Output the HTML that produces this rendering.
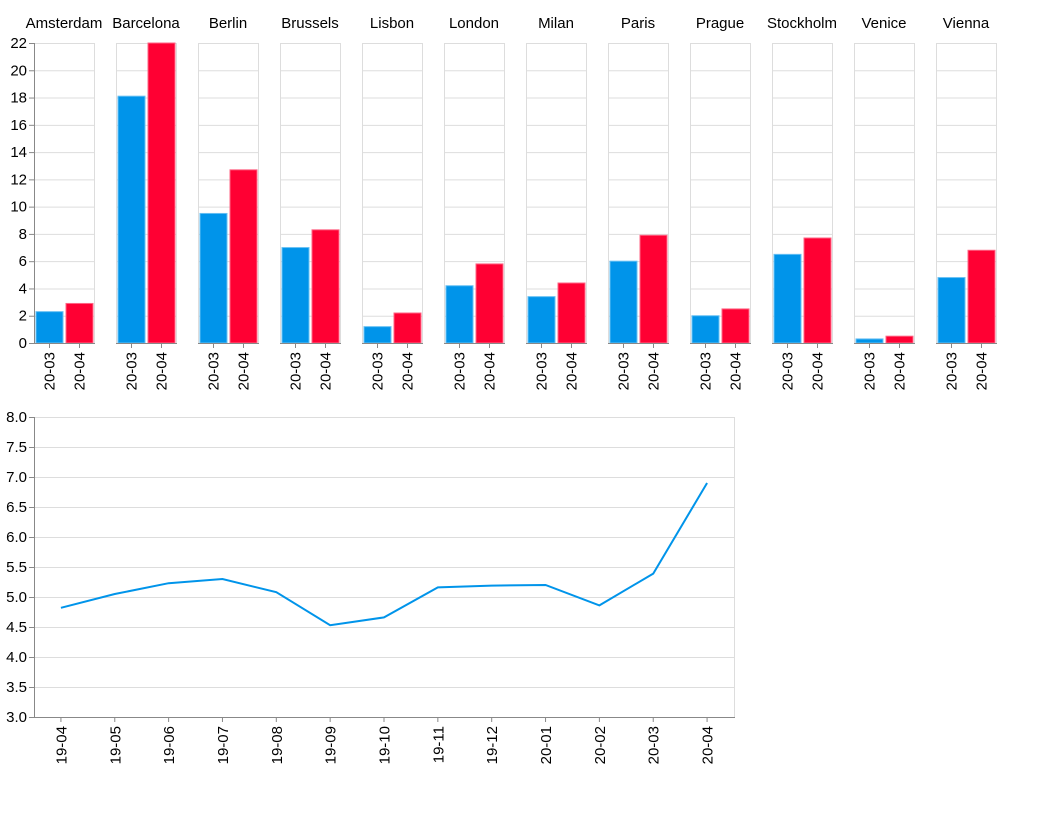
<!DOCTYPE html>
<html><head><meta charset="utf-8"><style>
body{margin:0;background:#fff;font-family:"Liberation Sans",Arial,sans-serif}
svg text{font-family:"Liberation Sans",Arial,sans-serif;fill:#000}
</style></head><body>
<svg id="c" width="1063" height="812" xmlns="http://www.w3.org/2000/svg"></svg>
<script>
const cities=["Amsterdam","Barcelona","Berlin","Brussels","Lisbon","London","Milan","Paris","Prague","Stockholm","Venice","Vienna"];
const barPeriods=["20-03","20-04"];
const vals0320=[2.3,18.1,9.5,7.0,1.2,4.2,3.4,6.0,2.0,6.5,0.3,4.8];
const vals0420=[2.9,22.0,12.7,8.3,2.2,5.8,4.4,7.9,2.5,7.7,0.5,6.8];
const barTicks=[0,2,4,6,8,10,12,14,16,18,20,22];
const months=["19-04","19-05","19-06","19-07","19-08","19-09","19-10","19-11","19-12","20-01","20-02","20-03","20-04"];
const lineVals=[4.82,5.05,5.23,5.30,5.08,4.53,4.66,5.16,5.19,5.20,4.86,5.39,6.90];
const lineTicks=[3.0,3.5,4.0,4.5,5.0,5.5,6.0,6.5,7.0,7.5,8.0];

const NS="http://www.w3.org/2000/svg",svg=document.getElementById('c');
function mk(t,a,p){const e=document.createElementNS(NS,t);for(const k in a)e.setAttribute(k,a[k]);(p||svg).appendChild(e);return e;}
const FS=15;
const by=v=>343-v*300/22;
const px=i=>34+i*82, PW=60;
const colors=["#0094ea","#ff0033"], strokes=["#66bff3","#ff6685"];
cities.forEach((c,i)=>{
  const g=mk('g',{});
  
  
  const x0=px(i);
  barTicks.forEach(t=>{mk('line',{x1:x0,x2:x0+PW,y1:by(t)+.5,y2:by(t)+.5,stroke:'#ddd'},g);});
  mk('rect',{x:x0+.5,y:43.5,width:PW,height:300,fill:'none',stroke:'#ddd'},g);
  const tt=mk('text',{x:x0+PW/2,y:28,'text-anchor':'middle','font-size':FS},g);tt.textContent=c;
  
  
  [vals0320[i],vals0420[i]].forEach((v,j)=>{
    const r=mk('rect',{x:x0+2+j*30,y:by(v),width:27,height:343-by(v),fill:colors[j],stroke:strokes[j]},g);
    
    
    const cx=x0+15+j*30;
    mk('line',{x1:cx+.5,x2:cx+.5,y1:343,y2:348,stroke:'#888'},g);
    const l=mk('text',{transform:`translate(${cx+5.5},352) rotate(-90)`,'text-anchor':'end','font-size':FS},g);l.textContent=barPeriods[j];
    
    
  });
  mk('line',{x1:x0,x2:x0+PW+1,y1:343.5,y2:343.5,stroke:'#888'},g);
});
mk('line',{x1:34.5,x2:34.5,y1:43,y2:344,stroke:'#888'});
barTicks.forEach(t=>{
  mk('line',{x1:29,x2:34,y1:by(t)+.5,y2:by(t)+.5,stroke:'#888'});
  const l=mk('text',{x:27,y:by(t)+5,'text-anchor':'end','font-size':FS});l.textContent=t;
  
  
});

const ly=v=>717-(v-3)*60, step=700/13, lx=i=>34+(i+.5)*step;
lineTicks.forEach(t=>{
  mk('line',{x1:34,x2:734,y1:ly(t)+.5,y2:ly(t)+.5,stroke:'#ddd'});
  mk('line',{x1:29,x2:34,y1:ly(t)+.5,y2:ly(t)+.5,stroke:'#888'});
  const l=mk('text',{x:27,y:ly(t)+5,'text-anchor':'end','font-size':FS});l.textContent=t.toFixed(1);
  
  
});
mk('line',{x1:734.5,x2:734.5,y1:417,y2:717,stroke:'#ddd'});
mk('line',{x1:34.5,x2:34.5,y1:417,y2:718,stroke:'#888'});
mk('line',{x1:34,x2:735,y1:717.5,y2:717.5,stroke:'#888'});
months.forEach((m,i)=>{
  const x=lx(i);
  mk('line',{x1:x,x2:x,y1:717,y2:722,stroke:'#888'});
  const l=mk('text',{transform:`translate(${x+5.5},726) rotate(-90)`,'text-anchor':'end','font-size':FS});l.textContent=m;
  
  
});
const p=mk('path',{d:lineVals.map((v,i)=>(i?'L':'M')+lx(i)+','+ly(v)).join(''),fill:'none',stroke:'#0094ea','stroke-width':2});


</script>
</body></html>
